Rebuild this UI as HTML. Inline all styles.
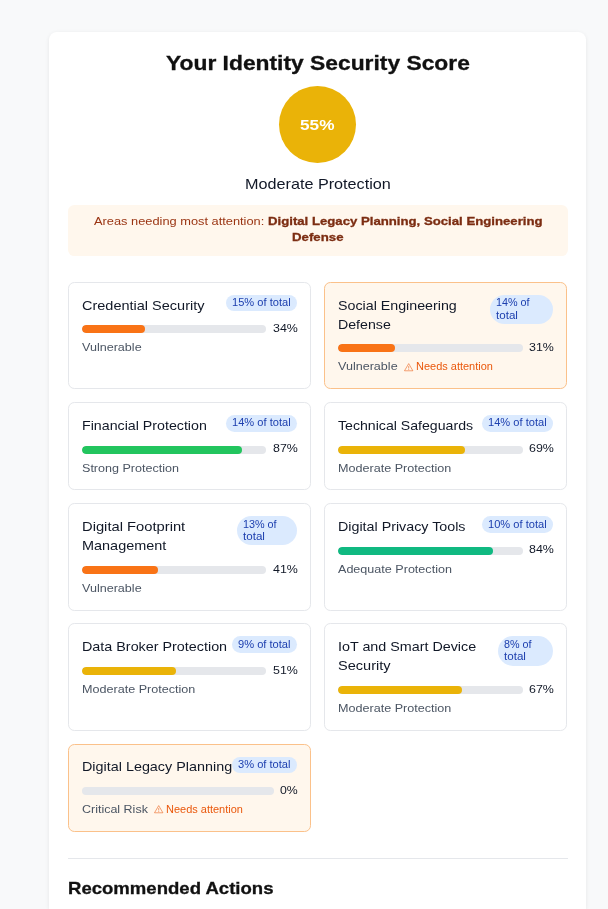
<!DOCTYPE html>
<html lang="en"><head><meta charset="utf-8"><title>Your Identity Security Score</title>
<style>
*{box-sizing:border-box}
html,body{margin:0;padding:0;width:608px;height:909px;overflow:hidden}
body{background:#f8f9fa;font-family:"Liberation Sans",sans-serif;color:#111;width:608px;height:909px;overflow:hidden;position:relative}
.wrap{position:absolute;left:48.7px;top:32px;width:537.3px;height:877px;background:#fff;border-radius:8px 8px 0 0;box-shadow:0 1px 4px rgba(0,0,0,.08);will-change:transform}
.r{position:absolute;white-space:pre;line-height:1;transform-origin:0 0;display:block;margin:0;font-weight:normal}
.h2{font-size:20.1px;font-weight:bold;color:#111;-webkit-text-stroke:.3px #111}
.circle{position:absolute;border-radius:50%;background:#eab308;color:#fff}
.circle .r{font-size:15.0px;font-weight:bold;color:#fff}
.lvl{font-size:15.0px;color:#111827}
.banner{position:absolute;background:#fff7ed;border-radius:6.4px;color:#9a3412}
.banner .r{font-size:11.7px;color:#9a3412}
.banner .r.b{font-weight:bold;color:#7c2d12;-webkit-text-stroke:.32px #7c2d12}
.c{position:absolute;border:1px solid #e5e7eb;border-radius:6.4px;background:#fff}
.c.hl{background:#fff7ed;border-color:#fbc18a}
.t{font-size:13.4px;color:#111827}
.p{font-size:10.0px;color:#1e40af}
.pill{position:absolute;background:#dbeafe;border-radius:9999px}
.tr{position:absolute;height:8px;background:#e5e7eb;border-radius:4px;overflow:hidden}
.f{height:100%;border-radius:4px}
.v{font-size:11.7px;color:#111827}
.s{font-size:11.7px;color:#4b5563}
.n{font-size:10.0px;color:#ea580c}
.ic{position:absolute;overflow:visible}
.hr{position:absolute;height:1px;background:#e5e7eb}
.h3{font-size:16.7px;font-weight:bold;color:#111;-webkit-text-stroke:.3px #111}
</style></head>
<body>
<div class="wrap">
<h2 class="r h2" style="left:116.95px;top:21.43px;transform:scaleX(1.1355)">Your Identity Security Score</h2>
<div class="circle" style="left:229.8px;top:54.11px;width:76.8px;height:76.8px"><span class="r circle" style="left:21.17px;top:31.39px;transform:scaleX(1.1472)">55%</span></div>
<span class="r lvl" style="left:195.98px;top:143.91px;transform:scaleX(1.0796)">Moderate Protection</span>
<div class="banner" style="left:19.19px;top:172.99px;width:499.42px;height:50.59px"><span class="r banner" style="left:25.51px;top:9.85px;transform:scaleX(1.0964)">Areas needing most attention:</span><span class="r b" style="left:199.34px;top:9.85px;transform:scaleX(1.1273)">Digital Legacy Planning, Social Engineering</span><span class="r b" style="left:223.93px;top:25.64px;transform:scaleX(1.1333)">Defense</span></div>
<div class="grid">
<div class="c" style="left:19.31px;top:250px;width:243px;height:107px"><div class="pill" style="left:156.9px;top:11.78px;width:70.79px;height:16.66px"></div><div class="tr" style="left:12.67px;top:42.27px;width:184.45px"><div class="f" style="width:62.7px;background:rgb(249, 115, 22)"></div></div><span class="r t" style="left:12.67px;top:16.38px;transform:scaleX(1.0826)">Credential Security</span><span class="r p" style="left:162.89px;top:14.67px;transform:scaleX(1.1098)">15% of total</span><span class="r v" style="left:203.42px;top:38.62px;transform:scaleX(1.0628)">34%</span><span class="r s" style="left:12.67px;top:57.92px;transform:scaleX(1.0752)">Vulnerable</span></div>
<div class="c hl" style="left:275.31px;top:250px;width:243px;height:107px"><div class="pill" style="left:164.84px;top:11.78px;width:62.96px;height:29.13px"></div><div class="tr" style="left:12.78px;top:61.45px;width:184.45px"><div class="f" style="width:57.17px;background:rgb(249, 115, 22)"></div></div><span class="r t" style="left:12.78px;top:16.38px;transform:scaleX(1.0638)">Social Engineering</span><span class="r t" style="left:12.78px;top:34.57px;transform:scaleX(1.0580)">Defense</span><span class="r p" style="left:170.83px;top:14.67px;transform:scaleX(1.0798)">14% of</span><span class="r p" style="left:170.83px;top:28.14px;transform:scaleX(1.1603)">total</span><span class="r v" style="left:203.52px;top:57.81px;transform:scaleX(1.0628)">31%</span><span class="r s" style="left:12.78px;top:77.1px;transform:scaleX(1.0752)">Vulnerable</span><svg class="ic" style="left:78.95px;top:79.55px" width="9.4" height="8.4" viewBox="0 0 94 84"><path d="M47 6 L89 78 H5 Z" fill="none" stroke="#ea580c" stroke-opacity=".85" stroke-width="6.5" stroke-linejoin="round"/><path d="M47 31 V55 M47 61 V69" stroke="#ea580c" stroke-opacity=".85" stroke-width="7"/></svg><span class="r n" style="left:90.51px;top:78.95px;transform:scaleX(1.0980)">Needs attention</span></div>
<div class="c" style="left:19.31px;top:370px;width:243px;height:88px"><div class="pill" style="left:156.9px;top:12.05px;width:70.79px;height:16.66px"></div><div class="tr" style="left:12.67px;top:42.53px;width:184.45px"><div class="f" style="width:160.47px;background:rgb(34, 197, 94)"></div></div><span class="r t" style="left:12.67px;top:15.64px;transform:scaleX(1.0616)">Financial Protection</span><span class="r p" style="left:162.89px;top:14.94px;transform:scaleX(1.1098)">14% of total</span><span class="r v" style="left:203.42px;top:38.88px;transform:scaleX(1.0628)">87%</span><span class="r s" style="left:12.67px;top:59.18px;transform:scaleX(1.0746)">Strong Protection</span></div>
<div class="c" style="left:275.31px;top:370px;width:243px;height:88px"><div class="pill" style="left:157.01px;top:12.05px;width:70.79px;height:16.66px"></div><div class="tr" style="left:12.78px;top:42.53px;width:184.45px"><div class="f" style="width:127.27px;background:rgb(234, 179, 8)"></div></div><span class="r t" style="left:12.78px;top:15.64px;transform:scaleX(1.0549)">Technical Safeguards</span><span class="r p" style="left:163px;top:14.94px;transform:scaleX(1.1098)">14% of total</span><span class="r v" style="left:203.52px;top:38.88px;transform:scaleX(1.0628)">69%</span><span class="r s" style="left:12.78px;top:59.18px;transform:scaleX(1.0772)">Moderate Protection</span></div>
<div class="c" style="left:19.31px;top:471px;width:243px;height:108px"><div class="pill" style="left:167.98px;top:12.13px;width:59.71px;height:29.13px"></div><div class="tr" style="left:12.67px;top:61.8px;width:184.45px"><div class="f" style="width:75.63px;background:rgb(249, 115, 22)"></div></div><span class="r t" style="left:12.67px;top:15.72px;transform:scaleX(1.1006)">Digital Footprint</span><span class="r t" style="left:12.67px;top:34.91px;transform:scaleX(1.0786)">Management</span><span class="r p" style="left:173.97px;top:16.02px;transform:scaleX(1.0798)">13% of</span><span class="r p" style="left:173.97px;top:28.48px;transform:scaleX(1.1603)">total</span><span class="r v" style="left:203.42px;top:59.15px;transform:scaleX(1.0628)">41%</span><span class="r s" style="left:12.67px;top:78.45px;transform:scaleX(1.0752)">Vulnerable</span></div>
<div class="c" style="left:275.31px;top:471px;width:243px;height:108px"><div class="pill" style="left:157.01px;top:12.13px;width:70.79px;height:16.66px"></div><div class="tr" style="left:12.78px;top:42.61px;width:184.45px"><div class="f" style="width:154.94px;background:rgb(16, 185, 129)"></div></div><span class="r t" style="left:12.78px;top:15.72px;transform:scaleX(1.0662)">Digital Privacy Tools</span><span class="r p" style="left:163px;top:16.02px;transform:scaleX(1.1098)">10% of total</span><span class="r v" style="left:203.52px;top:38.96px;transform:scaleX(1.0628)">84%</span><span class="r s" style="left:12.78px;top:59.26px;transform:scaleX(1.0755)">Adequate Protection</span></div>
<div class="c" style="left:19.31px;top:591px;width:243px;height:108px"><div class="pill" style="left:162.99px;top:12.39px;width:64.7px;height:16.66px"></div><div class="tr" style="left:12.67px;top:42.88px;width:184.45px"><div class="f" style="width:94.06px;background:rgb(234, 179, 8)"></div></div><span class="r t" style="left:12.67px;top:15.99px;transform:scaleX(1.0712)">Data Broker Protection</span><span class="r p" style="left:168.98px;top:16.28px;transform:scaleX(1.1111)">9% of total</span><span class="r v" style="left:203.42px;top:40.23px;transform:scaleX(1.0628)">51%</span><span class="r s" style="left:12.67px;top:58.52px;transform:scaleX(1.0772)">Moderate Protection</span></div>
<div class="c" style="left:275.31px;top:591px;width:243px;height:108px"><div class="pill" style="left:172.53px;top:12.39px;width:55.28px;height:29.13px"></div><div class="tr" style="left:12.78px;top:62.06px;width:184.45px"><div class="f" style="width:123.58px;background:rgb(234, 179, 8)"></div></div><span class="r t" style="left:12.78px;top:15.99px;transform:scaleX(1.0690)">IoT and Smart Device</span><span class="r t" style="left:12.78px;top:35.17px;transform:scaleX(1.0866)">Security</span><span class="r p" style="left:178.52px;top:16.28px;transform:scaleX(1.0764)">8% of</span><span class="r p" style="left:178.52px;top:27.75px;transform:scaleX(1.1603)">total</span><span class="r v" style="left:203.52px;top:59.42px;transform:scaleX(1.0628)">67%</span><span class="r s" style="left:12.78px;top:77.71px;transform:scaleX(1.0772)">Moderate Protection</span></div>
<div class="c hl" style="left:19.31px;top:712px;width:243px;height:88px"><div class="pill" style="left:162.99px;top:11.66px;width:64.7px;height:16.66px"></div><div class="tr" style="left:12.67px;top:42.14px;width:191.58px"><div class="f" style="width:0px;background:rgb(239, 68, 68)"></div></div><span class="r t" style="left:12.67px;top:15.25px;transform:scaleX(1.0727)">Digital Legacy Planning</span><span class="r p" style="left:168.98px;top:14.55px;transform:scaleX(1.1111)">3% of total</span><span class="r v" style="left:210.54px;top:39.49px;transform:scaleX(1.0499)">0%</span><span class="r s" style="left:12.67px;top:57.79px;transform:scaleX(1.0679)">Critical Risk</span><svg class="ic" style="left:85.09px;top:60.24px" width="9.4" height="8.4" viewBox="0 0 94 84"><path d="M47 6 L89 78 H5 Z" fill="none" stroke="#ea580c" stroke-opacity=".85" stroke-width="6.5" stroke-linejoin="round"/><path d="M47 31 V55 M47 61 V69" stroke="#ea580c" stroke-opacity=".85" stroke-width="7"/></svg><span class="r n" style="left:96.65px;top:59.64px;transform:scaleX(1.0980)">Needs attention</span></div>
</div>
<div class="hr" style="left:19.19px;top:826px;width:499.42px"></div>
<h3 class="r h3" style="left:19.19px;top:848.68px;transform:scaleX(1.1116)">Recommended Actions</h3>
</div>
</body></html>
